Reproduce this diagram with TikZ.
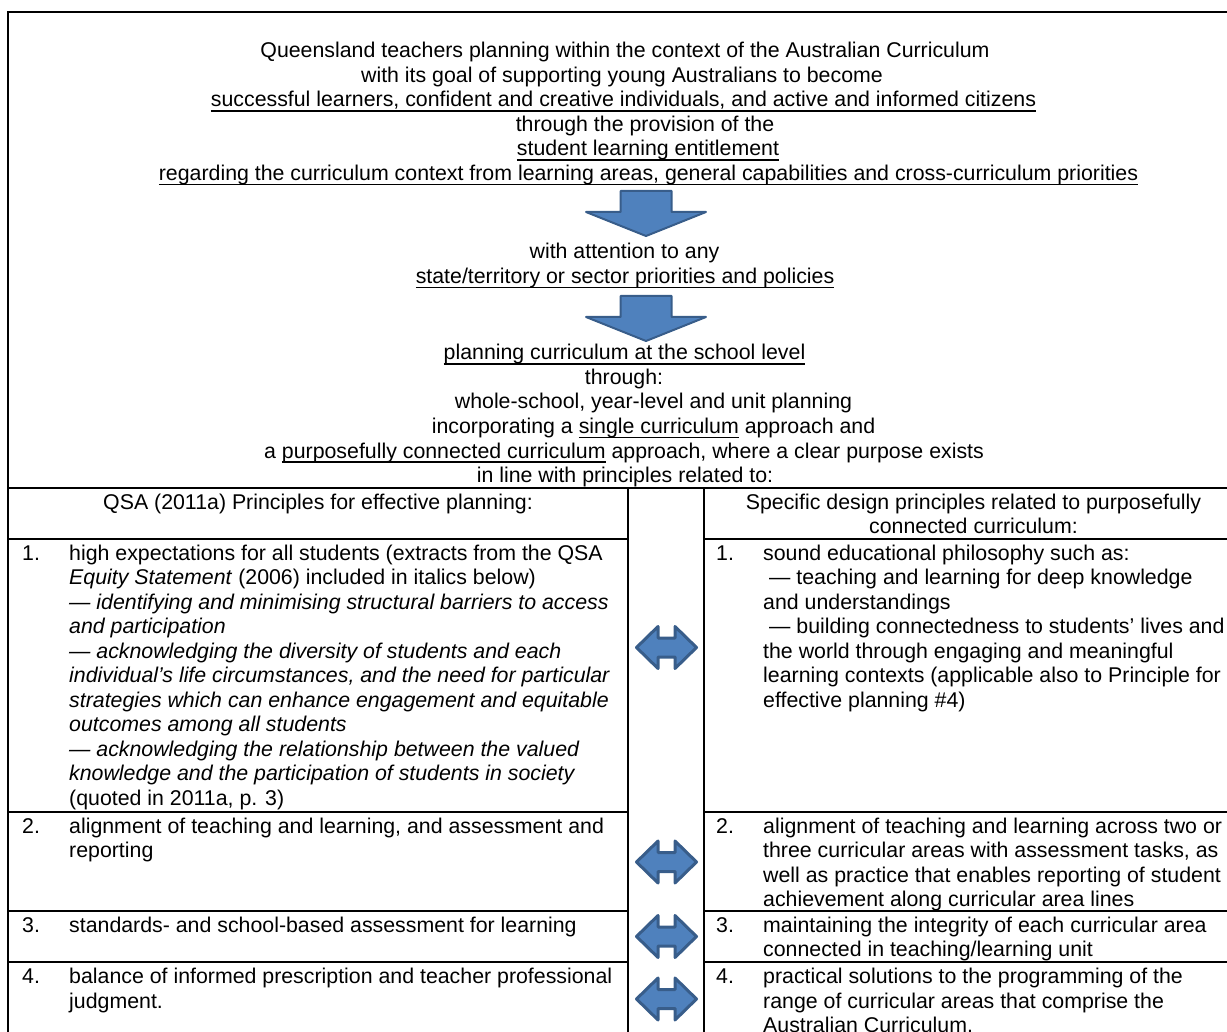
\documentclass[tikz,border=0pt]{standalone}
\usepackage{fontspec}
\setmainfont{Liberation Sans}
\definecolor{arrfill}{RGB}{79,129,189}
\definecolor{arrline}{RGB}{56,93,138}
\newcommand\fs{\fontsize{21.33pt}{24.5pt}\selectfont}
\newsavebox\ulbox
\newcommand\ulx[1]{\sbox\ulbox{#1}\rlap{\rule[-4.6pt]{\wd\ulbox}{1.4pt}}\usebox\ulbox}
\newcommand\cellpar[2]{\parbox[t]{#1}{\fs\raggedright #2}}
\tikzset{
  frame/.style={line width=1.8pt, black},
  txt/.style={inner sep=0pt, anchor=base, font=\fs},
  cell/.style={inner sep=0pt, anchor=base west, font=\fs},
  arrowshape/.style={fill=arrfill, draw=arrline, line join=round},
  downarrow/.pic={\draw[arrowshape, line width=2pt] (-25.5,1) -- (25.5,1) -- (25.5,22) -- (60,22) -- (0,46) -- (-60,22) -- (-25.5,22) -- cycle;},
  dblarrow/.pic={\draw[arrowshape, line width=3pt] (-30,0) -- (-8.5,-21) -- (-8.5,-9.5) -- (8.5,-9.5) -- (8.5,-21) -- (30,0) -- (8.5,21) -- (8.5,9.5) -- (-8.5,9.5) -- (-8.5,21) -- cycle;}
}
\begin{document}
\begin{tikzpicture}[x=1pt,y=-1pt]
\useasboundingbox (0,0) rectangle (1227,1032);
% frame and table lines
\draw[frame] (8,1045) -- (8,12) -- (1245,12);
\draw[frame] (8,488) -- (1245,488);
\draw[frame] (628,488) -- (628,1045);
\draw[frame] (704,488) -- (704,1045);
\foreach \yy in {539,812,911,962} {
  \draw[frame] (8,\yy) -- (628,\yy);
  \draw[frame] (704,\yy) -- (1245,\yy);
}
% top text
\node[txt] (t1) at (625,58) {Queensland teachers planning within the context of the Australian Curriculum};
\node[txt] (t2) at (622,82.5) {with its goal of supporting young Australians to become};
\node[txt] (t3) at (623.5,107) {\ulx{successful learners, confident and creative individuals, and active and informed citizens}};
\node[txt] (t4) at (645,131.5) {through the provision of the};
\node[txt] (t5) at (648,156) {\ulx{student learning entitlement}};
\node[txt] (t6) at (648.5,180.5) {\ulx{regarding the curriculum context from learning areas, general capabilities and cross-curriculum priorities}};
\pic at (646,190) {downarrow};
\node[txt] (t7) at (624.5,259) {with attention to any};
\node[txt] (t8) at (625,283.5) {\ulx{state/territory or sector priorities and policies}};
\pic at (646,295) {downarrow};
\node[txt] (t9) at (624.5,360) {\ulx{planning curriculum at the school level}};
\node[txt] (t10) at (624,384.5) {through:};
\node[txt] (t11) at (653.5,409) {whole-school, year-level and unit planning};
\node[txt] (t12) at (653.5,433.5) {incorporating a \ulx{single curriculum} approach and};
\node[txt] (t13) at (624,458) {a \ulx{purposefully connected curriculum} approach, where a clear purpose exists};
\node[txt] (t14) at (625,482.5) {in line with principles related to:};
% headers
\node[txt] (hl) at (318,509) {QSA (2011a) Principles for effective planning:};
\node[txt] (hr1) at (973.5,509) {Specific design principles related to purposefully};
\node[txt] (hr2) at (973.5,533.5) {connected curriculum:};
% left column
\node[cell] (ln1) at (22,560) {1.};
\node[cell] (lc1) at (69,560) {\cellpar{560pt}{high expectations for all students (extracts from the QSA\\
\textit{Equity Statement} (2006) included in italics below)\\
\textit{— identifying and minimising structural barriers to access}\\
\textit{and participation}\\
\textit{— acknowledging the diversity of students and each}\\
\textit{individual’s life circumstances, and the need for particular}\\
\textit{strategies which can enhance engagement and equitable}\\
\textit{outcomes among all students}\\
\textit{— acknowledging the relationship between the valued}\\
\textit{knowledge and the participation of students in society}\\
(quoted in 2011a, p. 3)}};
\node[cell] (ln2) at (22,833) {2.};
\node[cell] (lc2) at (69,833) {\cellpar{560pt}{alignment of teaching and learning, and assessment and\\ reporting}};
\node[cell] (ln3) at (22,932) {3.};
\node[cell] (lc3) at (69,932) {\cellpar{560pt}{standards- and school-based assessment for learning}};
\node[cell] (ln4) at (22,983.5) {4.};
\node[cell] (lc4) at (69,983.5) {\cellpar{560pt}{balance of informed prescription and teacher professional\\ judgment.}};
% right column
\node[cell] (rn1) at (716,560) {1.};
\node[cell] (rc1) at (763,560) {\cellpar{480pt}{sound educational philosophy such as:\\
\hspace*{6pt}— teaching and learning for deep knowledge\\
and understandings\\
\hspace*{6pt}— building connectedness to students’ lives and\\
the world through engaging and meaningful\\
learning contexts (applicable also to Principle for\\
effective planning \#4)}};
\node[cell] (rn2) at (716,833) {2.};
\node[cell] (rc2) at (763,833) {\cellpar{480pt}{alignment of teaching and learning across two or\\
three curricular areas with assessment tasks, as\\
well as practice that enables reporting of student\\
achievement along curricular area lines}};
\node[cell] (rn3) at (716,932) {3.};
\node[cell] (rc3) at (763,932) {\cellpar{480pt}{maintaining the integrity of each curricular area\\
connected in teaching/learning unit}};
\node[cell] (rn4) at (716,983.5) {4.};
\node[cell] (rc4) at (763,983.5) {\cellpar{480pt}{practical solutions to the programming of the\\
range of curricular areas that comprise the\\
Australian Curriculum.}};
% double arrows
\pic at (666.5,647.5) {dblarrow};
\pic at (666.5,862) {dblarrow};
\pic at (666.5,936.5) {dblarrow};
\pic at (666.5,999) {dblarrow};
\end{tikzpicture}
\end{document}
